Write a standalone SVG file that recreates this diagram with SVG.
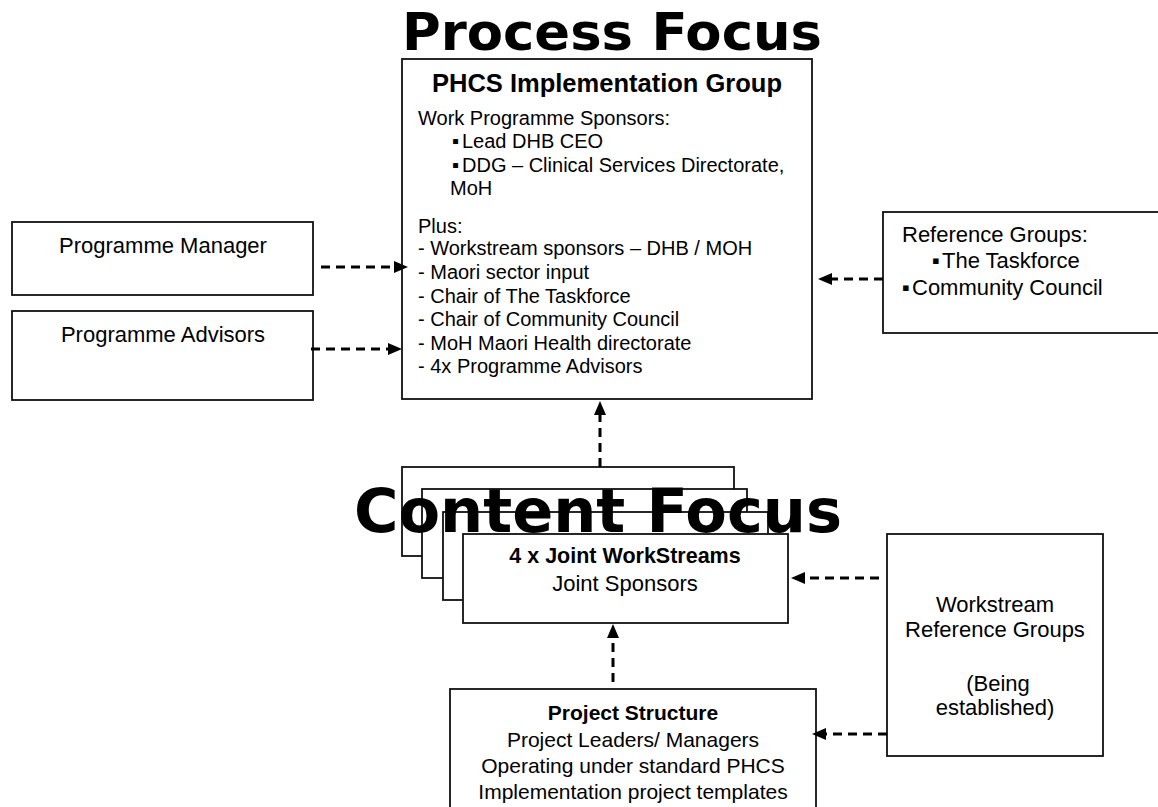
<svg xmlns="http://www.w3.org/2000/svg" width="1158" height="807" viewBox="0 0 1158 807">
<defs>
<style>
.box{fill:#fff;stroke:#111;stroke-width:1.8}
.t{font-family:"Liberation Sans",Arial,sans-serif;fill:#000}
.s20{font-size:20px}
.s22{font-size:22px}
.b{font-weight:bold}
.mid{text-anchor:middle}
.title{font-family:"DejaVu Sans","Liberation Sans",sans-serif;font-weight:bold;fill:#000;text-anchor:middle}
.conn{stroke:#000;stroke-width:3;stroke-dasharray:9 6;fill:none;marker-end:url(#ah)}
</style>
<marker id="ah" markerUnits="userSpaceOnUse" markerWidth="15" markerHeight="13" refX="2" refY="6" orient="auto">
<path d="M0,0 L14,6 L0,12 z" fill="#000"/>
</marker>
</defs>
<rect width="1158" height="807" fill="#fff"/>

<text class="title" x="612" y="50" font-size="52" textLength="420" lengthAdjust="spacingAndGlyphs">Process Focus</text>

<g id="phcs-group">
<rect class="box" x="402" y="59" width="410" height="340"/>
<text class="t b mid" x="607" y="92" font-size="25.5">PHCS Implementation Group</text>
<text class="t s20" x="418" y="125">Work Programme Sponsors:</text>
<text class="t s20" y="148"><tspan x="452">▪</tspan><tspan x="462">Lead DHB CEO</tspan></text>
<text class="t s20" y="172"><tspan x="452">▪</tspan><tspan x="462">DDG – Clinical Services Directorate,</tspan></text>
<text class="t s20" x="450" y="195">MoH</text>
<text class="t s20" x="418" y="233">Plus:</text>
<text class="t s20" x="418" y="255">- Workstream sponsors – DHB / MOH</text>
<text class="t s20" x="418" y="279">- Maori sector input</text>
<text class="t s20" x="418" y="303">- Chair of The Taskforce</text>
<text class="t s20" x="418" y="326">- Chair of Community Council</text>
<text class="t s20" x="418" y="350">- MoH Maori Health directorate</text>
<text class="t s20" x="418" y="373">- 4x Programme Advisors</text>
</g>

<g id="programme-manager">
<rect class="box" x="12" y="222" width="301" height="73"/>
<text class="t s22 mid" x="163" y="253">Programme Manager</text>
</g>

<g id="programme-advisors">
<rect class="box" x="12" y="311" width="301" height="89"/>
<text class="t s22 mid" x="163" y="342">Programme Advisors</text>
</g>

<g id="reference-groups">
<rect class="box" x="883" y="212" width="280" height="121"/>
<text class="t s22" x="902" y="242">Reference Groups:</text>
<text class="t s22" y="268"><tspan x="932">▪</tspan><tspan x="942">The Taskforce</tspan></text>
<text class="t s22" y="295"><tspan x="902">▪</tspan><tspan x="912">Community Council</tspan></text>
</g>

<g id="joint-workstreams">
<rect class="box" x="402" y="467" width="332" height="89"/>
<rect class="box" x="422" y="489" width="325" height="89"/>
<rect class="box" x="443" y="512" width="325" height="88"/>
<rect class="box" x="463" y="534" width="325" height="89"/>
<text class="t b mid" x="625" y="563" font-size="21.5">4 x Joint WorkStreams</text>
<text class="t s22 mid" x="625" y="591">Joint Sponsors</text>
</g>

<text class="title" x="598" y="532" font-size="61" textLength="488" lengthAdjust="spacingAndGlyphs">Content Focus</text>

<g id="workstream-reference-groups">
<rect class="box" x="887" y="534" width="216" height="222"/>
<text class="t s22 mid" x="995" y="612">Workstream</text>
<text class="t s22 mid" x="995" y="637">Reference Groups</text>
<text class="t s22 mid" x="998" y="691">(Being</text>
<text class="t s22 mid" x="995" y="715">established)</text>
</g>

<g id="project-structure">
<rect class="box" x="450" y="689" width="366" height="130"/>
<text class="t b mid" x="633" y="720" font-size="21">Project Structure</text>
<text class="t mid" x="633" y="747" font-size="21">Project Leaders/ Managers</text>
<text class="t mid" x="633" y="773" font-size="21">Operating under standard PHCS</text>
<text class="t mid" x="633" y="799" font-size="21">Implementation project templates</text>
</g>

<g id="connectors">
<line class="conn" x1="318" y1="267" x2="396" y2="267" stroke-dashoffset="12"/>
<line class="conn" x1="311" y1="349" x2="390" y2="349"/>
<line class="conn" x1="883" y1="279" x2="830" y2="279"/>
<line class="conn" x1="600" y1="467" x2="600" y2="413"/>
<line class="conn" x1="879" y1="578" x2="803" y2="578"/>
<line class="conn" x1="887" y1="734" x2="824" y2="734"/>
<line class="conn" x1="613" y1="682" x2="613" y2="636"/>
</g>
</svg>
